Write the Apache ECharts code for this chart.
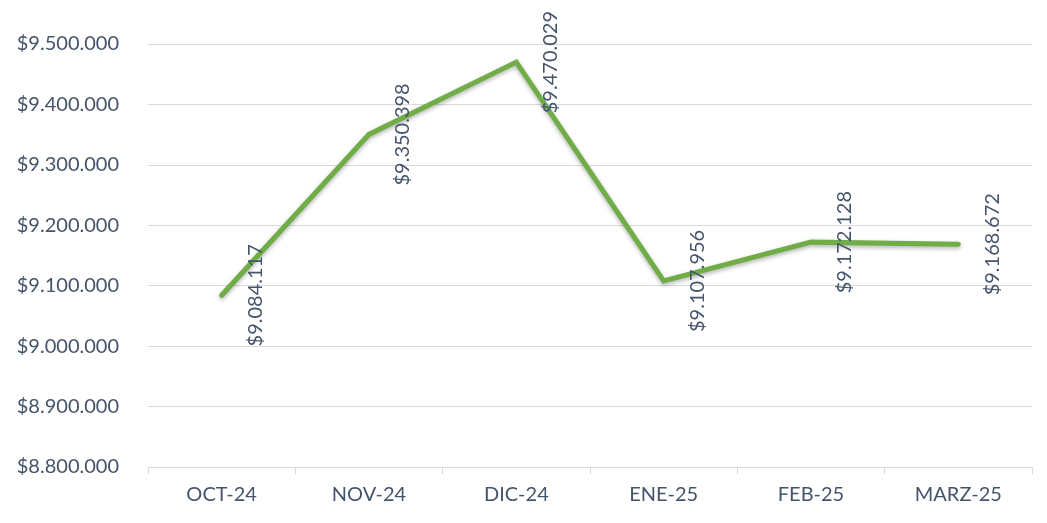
<!DOCTYPE html>
<html>
<head>
<meta charset="utf-8">
<script src="https://cdn.jsdelivr.net/npm/echarts@6/dist/echarts.min.js"></script>
<style>
  html, body { margin: 0; padding: 0; background: #fff; }
  #chart { width: 1047px; height: 523px; }
</style>
</head>
<body>
<div id="chart"></div>
<script>
// months and monthly totals
const months = ["OCT-24", "NOV-24", "DIC-24", "ENE-25", "FEB-25", "MARZ-25"];
const totals = [9084117, 9350398, 9470029, 9107956, 9172128, 9168672];

const textColor = "#44546a";
const fontFamily = "Lato, 'Open Sans', sans-serif";

// $9.500.000 style
const money = (n) => "$" + Math.round(n).toString().replace(/\B(?=(\d{3})+(?!\d))/g, ".");

const chart = echarts.init(document.getElementById("chart"));

chart.setOption({
    animation: false,
    grid: { left: 148, right: 15, top: 44, bottom: 56 },
    xAxis: {
        type: "category",
        data: months,
        boundaryGap: true,
        axisLine: { lineStyle: { color: "#d9d9d9", width: 1 } },
        axisTick: { show: true, length: 7, lineStyle: { color: "#d9d9d9" } },
        axisLabel: { color: textColor, fontSize: 20, fontFamily: fontFamily, margin: 18 },
    },
    yAxis: {
        type: "value",
        min: 8800000,
        max: 9500000,
        interval: 100000,
        axisLine: { show: false },
        axisTick: { show: false },
        axisLabel: { color: textColor, fontSize: 20, fontFamily: fontFamily, margin: 29, formatter: money },
        splitLine: { lineStyle: { color: "#d9d9d9", width: 1 } },
    },
    series: [
        {
            type: "line",
            data: totals,
            symbol: "circle",
            symbolSize: 2,
            itemStyle: { color: "#70ad47" },
            lineStyle: {
                color: "#70ad47",
                width: 5,
                cap: "round",
                join: "miter",
                shadowColor: "rgba(0,0,0,0.3)",
                shadowBlur: 4,
                shadowOffsetY: 2,
            },
            label: {
                show: true,
                position: "inside",
                rotate: 90,
                offset: [0, 34],
                color: textColor,
                fontSize: 20,
                fontFamily: fontFamily,
                formatter: (p) => money(p.value),
            },
        },
    ],
});
</script>
</body>
</html>
